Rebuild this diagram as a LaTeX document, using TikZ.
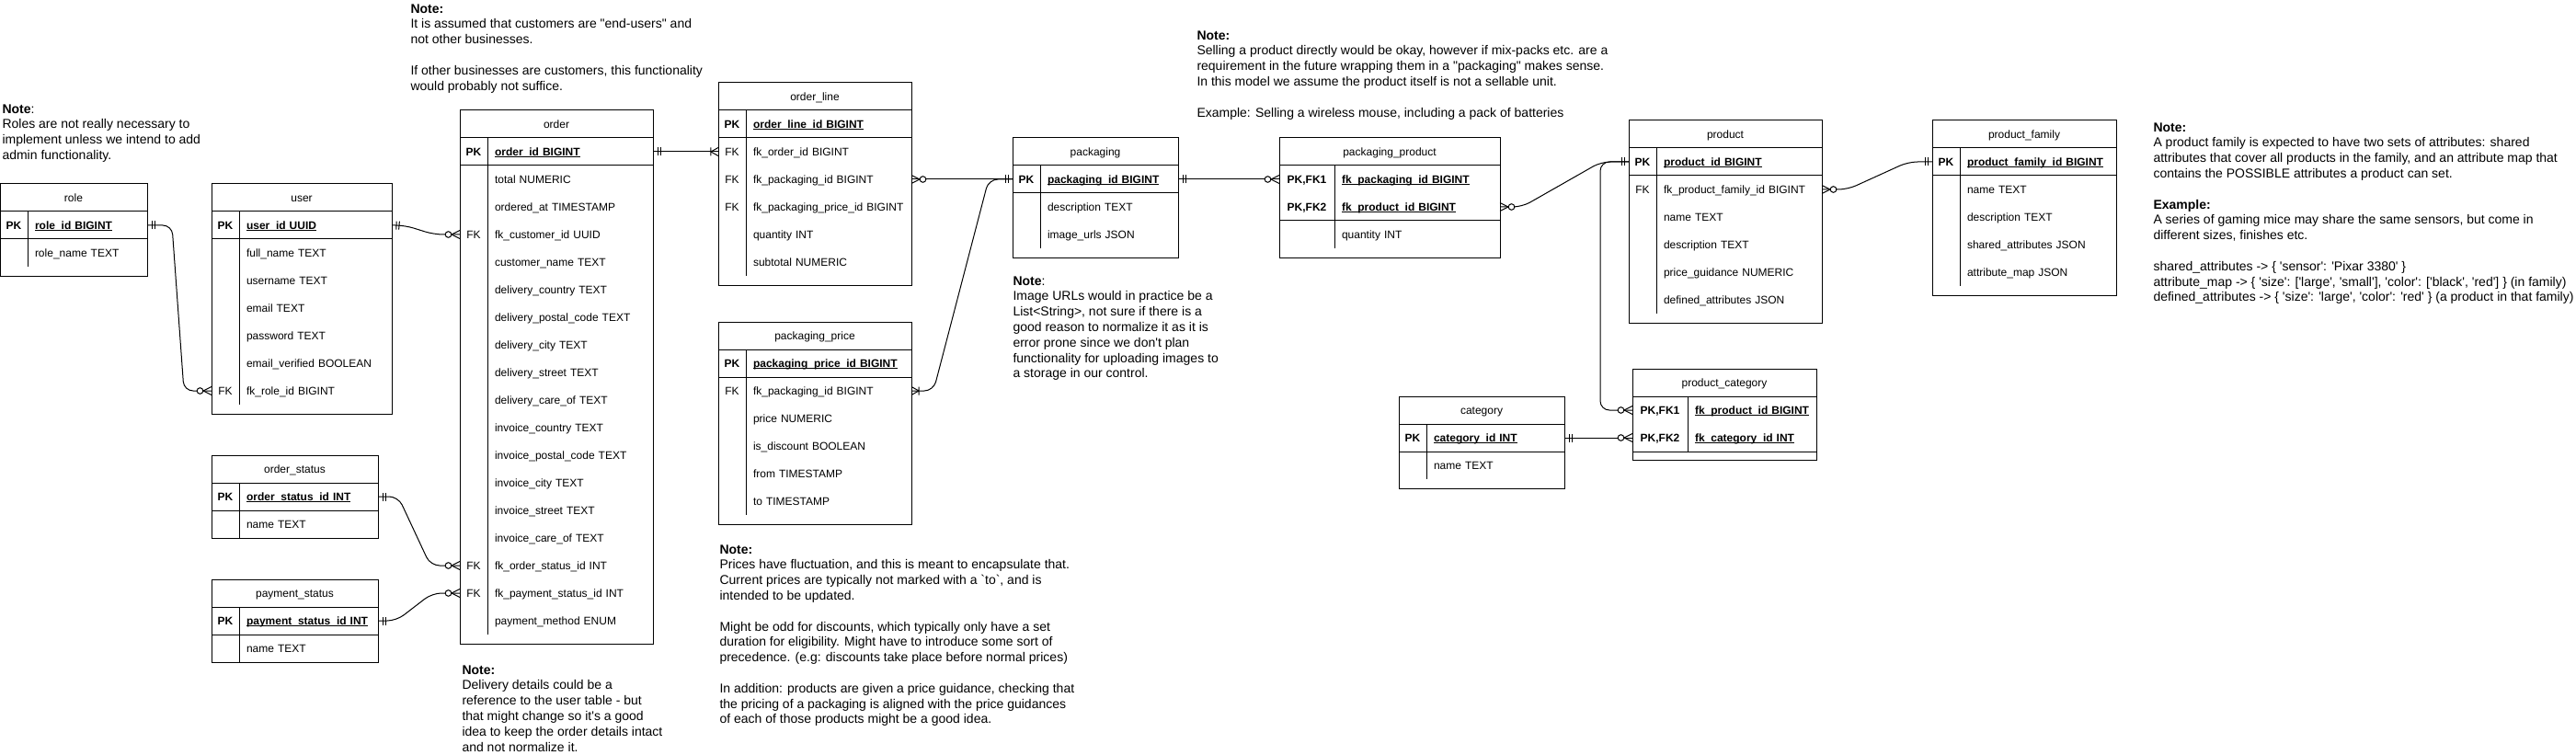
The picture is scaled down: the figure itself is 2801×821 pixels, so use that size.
\documentclass[tikz,border=0pt]{standalone}
\usepackage{fontspec}
\setmainfont{Liberation Sans}[Ligatures=TeXOff]
\usepackage{tikz}
\usetikzlibrary{positioning,decorations.markings}
\newcommand{\tablefont}{\fontsize{12}{14}\selectfont}
\newcommand{\notefont}{\fontsize{14}{16.8}\selectfont}
\newcommand{\PKey}[1]{\leavevmode\setbox0=\hbox{\textbf{#1}}\copy0\kern-\wd0\rule[-1.8pt]{\wd0}{0.8pt}}

\begin{document}
\begin{tikzpicture}[x=1pt,y=-1pt,line width=1pt,font=\tablefont,
  head/.style={minimum width=#1,minimum height=30pt,inner sep=0pt,outer sep=0pt,anchor=north west,text height=10pt,text depth=1.4pt},
  key/.style={minimum width=#1,minimum height=30pt,inner sep=0pt,outer sep=0pt,text height=10pt,text depth=1.4pt},
  field/.style={text width=#1,minimum height=30pt,inner xsep=8pt,inner ysep=0pt,outer sep=0pt,align=left,text height=10pt,text depth=1.4pt},
  one/.style={postaction={decorate,decoration={markings,
    mark=at position 5pt with {\draw (0pt,-4.5pt) -- (0pt,4.5pt);},
    mark=at position 8pt with {\draw (0pt,-4.5pt) -- (0pt,4.5pt);}}}},
  many/.style={postaction={decorate,decoration={markings,
    mark=at position -0.01pt with {\draw (-9pt,0pt) -- (0pt,4.5pt) (-9pt,0pt) -- (0pt,-4.5pt);
      \draw[fill=white] (-12.5pt,0pt) circle (3.3pt);}}}},
  onemany/.style={postaction={decorate,decoration={markings,
    mark=at position -0.01pt with {\draw (-8pt,0pt) -- (0pt,4.5pt) (-8pt,0pt) -- (0pt,-4.5pt) (-8pt,-4.5pt) -- (-8pt,4.5pt);}}}}]
\tikzstyle{note}=[anchor=north west,align=left,inner sep=0pt,font=\notefont]
\tikzstyle{rel}=[draw,rounded corners=10pt]
\useasboundingbox (0,0) rectangle (2801,821);

% role
\node[head=160pt] (Role) at (0,200) {role};
\node[key=30pt,below right=0pt of Role.south west] (RolePK) {\textbf{PK}};
\node[field=114pt,right=0pt of RolePK] (RoleId) {\PKey{role\_id BIGINT}};
\node[field=114pt,below=0pt of RoleId] (RoleName) {role\_name TEXT};
\draw (Role.north west) rectangle ([yshift=-10pt]RoleName.south east);
\draw (Role.south west) -- (Role.south east);
\draw (RolePK.south west) -- (RoleId.south east);
\draw (RoleId.north west) -- (RoleName.south west);

% user
\node[head=196pt] (User) at (230,200) {user};
\node[key=30pt,below right=0pt of User.south west] (UserPK) {\textbf{PK}};
\node[field=150pt,right=0pt of UserPK] (UserId) {\PKey{user\_id UUID}};
\node[field=150pt,below=0pt of UserId] (UserFullName) {full\_name TEXT};
\node[field=150pt,below=0pt of UserFullName] (UserName) {username TEXT};
\node[field=150pt,below=0pt of UserName] (UserEmail) {email TEXT};
\node[field=150pt,below=0pt of UserEmail] (UserPassword) {password TEXT};
\node[field=150pt,below=0pt of UserPassword] (UserVerified) {email\_verified BOOLEAN};
\node[field=150pt,below=0pt of UserVerified] (UserFkRole) {fk\_role\_id BIGINT};
\node[key=30pt,left=0pt of UserFkRole] (UserFK) {FK};
\draw (User.north west) rectangle ([yshift=-10pt]UserFkRole.south east);
\draw (User.south west) -- (User.south east);
\draw (UserPK.south west) -- (UserId.south east);
\draw (UserId.north west) -- (UserFkRole.south west);

% order
\node[head=210pt] (Order) at (500,120) {order};
\node[key=30pt,below right=0pt of Order.south west] (OrderPK) {\textbf{PK}};
\node[field=164pt,right=0pt of OrderPK] (OrderId) {\PKey{order\_id BIGINT}};
\node[field=164pt,below=0pt of OrderId] (OrderTotal) {total NUMERIC};
\node[field=164pt,below=0pt of OrderTotal] (OrderedAt) {ordered\_at TIMESTAMP};
\node[field=164pt,below=0pt of OrderedAt] (OrderFkCustomer) {fk\_customer\_id UUID};
\node[key=30pt,left=0pt of OrderFkCustomer] (OrderFK1) {FK};
\node[field=164pt,below=0pt of OrderFkCustomer] (CustomerName) {customer\_name TEXT};
\node[field=164pt,below=0pt of CustomerName] (DeliveryCountry) {delivery\_country TEXT};
\node[field=164pt,below=0pt of DeliveryCountry] (DeliveryPostal) {delivery\_postal\_code TEXT};
\node[field=164pt,below=0pt of DeliveryPostal] (DeliveryCity) {delivery\_city TEXT};
\node[field=164pt,below=0pt of DeliveryCity] (DeliveryStreet) {delivery\_street TEXT};
\node[field=164pt,below=0pt of DeliveryStreet] (DeliveryCareOf) {delivery\_care\_of TEXT};
\node[field=164pt,below=0pt of DeliveryCareOf] (InvoiceCountry) {invoice\_country TEXT};
\node[field=164pt,below=0pt of InvoiceCountry] (InvoicePostal) {invoice\_postal\_code TEXT};
\node[field=164pt,below=0pt of InvoicePostal] (InvoiceCity) {invoice\_city TEXT};
\node[field=164pt,below=0pt of InvoiceCity] (InvoiceStreet) {invoice\_street TEXT};
\node[field=164pt,below=0pt of InvoiceStreet] (InvoiceCareOf) {invoice\_care\_of TEXT};
\node[field=164pt,below=0pt of InvoiceCareOf] (OrderFkStatus) {fk\_order\_status\_id INT};
\node[key=30pt,left=0pt of OrderFkStatus] (OrderFK2) {FK};
\node[field=164pt,below=0pt of OrderFkStatus] (OrderFkPayment) {fk\_payment\_status\_id INT};
\node[key=30pt,left=0pt of OrderFkPayment] (OrderFK3) {FK};
\node[field=164pt,below=0pt of OrderFkPayment] (PaymentMethod) {payment\_method ENUM};
\draw (Order.north west) rectangle ([yshift=-10pt]PaymentMethod.south east);
\draw (Order.south west) -- (Order.south east);
\draw (OrderPK.south west) -- (OrderId.south east);
\draw (OrderId.north west) -- (PaymentMethod.south west);

% order_status
\node[head=181pt] (OrderStatus) at (230,495) {order\_status};
\node[key=30pt,below right=0pt of OrderStatus.south west] (OsPK) {\textbf{PK}};
\node[field=135pt,right=0pt of OsPK] (OsId) {\PKey{order\_status\_id~INT}};
\node[field=135pt,below=0pt of OsId] (OsName) {name TEXT};
\draw (OrderStatus.north west) rectangle (OsName.south east);
\draw (OrderStatus.south west) -- (OrderStatus.south east);
\draw (OsPK.south west) -- (OsId.south east);
\draw (OsId.north west) -- (OsName.south west);

% payment_status
\node[head=181pt] (PaymentStatus) at (230,630) {payment\_status};
\node[key=30pt,below right=0pt of PaymentStatus.south west] (PsPK) {\textbf{PK}};
\node[field=135pt,right=0pt of PsPK] (PsId) {\PKey{payment\_status\_id~INT}};
\node[field=135pt,below=0pt of PsId] (PsName) {name TEXT};
\draw (PaymentStatus.north west) rectangle (PsName.south east);
\draw (PaymentStatus.south west) -- (PaymentStatus.south east);
\draw (PsPK.south west) -- (PsId.south east);
\draw (PsId.north west) -- (PsName.south west);

% order_line
\node[head=210pt] (OrderLine) at (781,90) {order\_line};
\node[key=30pt,below right=0pt of OrderLine.south west] (OlPK) {\textbf{PK}};
\node[field=164pt,right=0pt of OlPK] (OlId) {\PKey{order\_line\_id BIGINT}};
\node[field=164pt,below=0pt of OlId] (OlFkOrder) {fk\_order\_id BIGINT};
\node[key=30pt,left=0pt of OlFkOrder] (OlFK1) {FK};
\node[field=164pt,below=0pt of OlFkOrder] (OlFkPack) {fk\_packaging\_id BIGINT};
\node[key=30pt,left=0pt of OlFkPack] (OlFK2) {FK};
\node[field=164pt,below=0pt of OlFkPack] (OlFkPrice) {fk\_packaging\_price\_id~BIGINT};
\node[key=30pt,left=0pt of OlFkPrice] (OlFK3) {FK};
\node[field=164pt,below=0pt of OlFkPrice] (OlQty) {quantity INT};
\node[field=164pt,below=0pt of OlQty] (OlSubtotal) {subtotal NUMERIC};
\draw (OrderLine.north west) rectangle ([yshift=-10pt]OlSubtotal.south east);
\draw (OrderLine.south west) -- (OrderLine.south east);
\draw (OlPK.south west) -- (OlId.south east);
\draw (OlId.north west) -- (OlSubtotal.south west);

% packaging_price
\node[head=210pt] (PackPrice) at (781,350) {packaging\_price};
\node[key=30pt,below right=0pt of PackPrice.south west] (PpPK) {\textbf{PK}};
\node[field=164pt,right=0pt of PpPK] (PpId) {\PKey{packaging\_price\_id~BIGINT}};
\node[field=164pt,below=0pt of PpId] (PpFkPack) {fk\_packaging\_id BIGINT};
\node[key=30pt,left=0pt of PpFkPack] (PpFK) {FK};
\node[field=164pt,below=0pt of PpFkPack] (PpPrice) {price NUMERIC};
\node[field=164pt,below=0pt of PpPrice] (PpDiscount) {is\_discount BOOLEAN};
\node[field=164pt,below=0pt of PpDiscount] (PpFrom) {from TIMESTAMP};
\node[field=164pt,below=0pt of PpFrom] (PpTo) {to TIMESTAMP};
\draw (PackPrice.north west) rectangle ([yshift=-10pt]PpTo.south east);
\draw (PackPrice.south west) -- (PackPrice.south east);
\draw (PpPK.south west) -- (PpId.south east);
\draw (PpId.north west) -- (PpTo.south west);

% packaging
\node[head=180pt] (Packaging) at (1101,150) {packaging};
\node[key=30pt,below right=0pt of Packaging.south west] (PackPK) {\textbf{PK}};
\node[field=134pt,right=0pt of PackPK] (PackId) {\PKey{packaging\_id BIGINT}};
\node[field=134pt,below=0pt of PackId] (PackDesc) {description TEXT};
\node[field=134pt,below=0pt of PackDesc] (PackImages) {image\_urls JSON};
\draw (Packaging.north west) rectangle ([yshift=-10pt]PackImages.south east);
\draw (Packaging.south west) -- (Packaging.south east);
\draw (PackPK.south west) -- (PackId.south east);
\draw (PackId.north west) -- (PackImages.south west);

% packaging_product
\node[head=240pt] (PackProd) at (1391,150) {packaging\_product};
\node[key=60pt,below right=0pt of PackProd.south west] (PprPK1) {\textbf{PK,FK1}};
\node[field=164pt,right=0pt of PprPK1] (PprFkPack) {\PKey{fk\_packaging\_id BIGINT}};
\node[key=60pt,below=0pt of PprPK1] (PprPK2) {\textbf{PK,FK2}};
\node[field=164pt,right=0pt of PprPK2] (PprFkProd) {\PKey{fk\_product\_id BIGINT}};
\node[field=164pt,below=0pt of PprFkProd] (PprQty) {quantity INT};
\draw (PackProd.north west) rectangle ([yshift=-10pt]PprQty.south east);
\draw (PackProd.south west) -- (PackProd.south east);
\draw (PprPK2.south west) -- (PprFkProd.south east);
\draw (PprFkPack.north west) -- (PprQty.south west);

% product
\node[head=210pt] (Product) at (1771,131) {product};
\node[key=30pt,below right=0pt of Product.south west] (ProdPK) {\textbf{PK}};
\node[field=164pt,right=0pt of ProdPK] (ProdId) {\PKey{product\_id BIGINT}};
\node[field=164pt,below=0pt of ProdId] (ProdFkFam) {fk\_product\_family\_id BIGINT};
\node[key=30pt,left=0pt of ProdFkFam] (ProdFK) {FK};
\node[field=164pt,below=0pt of ProdFkFam] (ProdName) {name TEXT};
\node[field=164pt,below=0pt of ProdName] (ProdDesc) {description TEXT};
\node[field=164pt,below=0pt of ProdDesc] (ProdGuide) {price\_guidance NUMERIC};
\node[field=164pt,below=0pt of ProdGuide] (ProdAttr) {defined\_attributes JSON};
\draw (Product.north west) rectangle ([yshift=-10pt]ProdAttr.south east);
\draw (Product.south west) -- (Product.south east);
\draw (ProdPK.south west) -- (ProdId.south east);
\draw (ProdId.north west) -- (ProdAttr.south west);

% product_family
\node[head=200pt] (Family) at (2101,131) {product\_family};
\node[key=30pt,below right=0pt of Family.south west] (FamPK) {\textbf{PK}};
\node[field=154pt,right=0pt of FamPK] (FamId) {\PKey{product\_family\_id~BIGINT}};
\node[field=154pt,below=0pt of FamId] (FamName) {name TEXT};
\node[field=154pt,below=0pt of FamName] (FamDesc) {description TEXT};
\node[field=154pt,below=0pt of FamDesc] (FamShared) {shared\_attributes JSON};
\node[field=154pt,below=0pt of FamShared] (FamMap) {attribute\_map JSON};
\draw (Family.north west) rectangle ([yshift=-10pt]FamMap.south east);
\draw (Family.south west) -- (Family.south east);
\draw (FamPK.south west) -- (FamId.south east);
\draw (FamId.north west) -- (FamMap.south west);

% product_category
\node[head=200pt] (ProdCat) at (1775,401) {product\_category};
\node[key=60pt,below right=0pt of ProdCat.south west] (PcPK1) {\textbf{PK,FK1}};
\node[field=124pt,right=0pt of PcPK1] (PcFkProd) {\PKey{fk\_product\_id~BIGINT}};
\node[key=60pt,below=0pt of PcPK1] (PcPK2) {\textbf{PK,FK2}};
\node[field=124pt,right=0pt of PcPK2] (PcFkCat) {\PKey{fk\_category\_id~INT}};
\draw (ProdCat.north west) rectangle ([yshift=-9pt]PcFkCat.south east);
\draw (ProdCat.south west) -- (ProdCat.south east);
\draw (PcPK2.south west) -- (PcFkCat.south east);
\draw (PcFkProd.north west) -- (PcFkCat.south west);

% category
\node[head=180pt] (Category) at (1521,431) {category};
\node[key=30pt,below right=0pt of Category.south west] (CatPK) {\textbf{PK}};
\node[field=134pt,right=0pt of CatPK] (CatId) {\PKey{category\_id INT}};
\node[field=134pt,below=0pt of CatId] (CatName) {name TEXT};
\draw (Category.north west) rectangle ([yshift=-10pt]CatName.south east);
\draw (Category.south west) -- (Category.south east);
\draw (CatPK.south west) -- (CatId.south east);
\draw (CatId.north west) -- (CatName.south west);

% notes
\node[note] (RoleNote) at (2,113) {\textbf{Note}:\\Roles are not really necessary to\\implement unless we intend to add\\admin functionality.};
\node[note] (CustomerNote) at (446,4) {\textbf{Note:}\\It is assumed that customers are "end-users" and\\not other businesses.\\[16.8pt]If other businesses are customers, this functionality\\would probably not suffice.};
\node[note] (DeliveryNote) at (502,723) {\textbf{Note:}\\Delivery details could be a\\reference to the user table - but\\that might change so it's a good\\idea to keep the order details intact\\and not normalize it.};
\node[note] (PriceNote) at (782,592) {\textbf{Note:}\\Prices have fluctuation, and this is meant to encapsulate that.\\Current prices are typically not marked with a `to`, and is\\intended to be updated.\\[16.8pt]Might be odd for discounts, which typically only have a set\\duration for eligibility. Might have to introduce some sort of\\precedence. (e.g: discounts take place before normal prices)\\[16.8pt]In addition: products are given a price guidance, checking that\\the pricing of a packaging is aligned with the price guidances\\of each of those products might be a good idea.};
\node[note] (ImageNote) at (1101,300) {\textbf{Note}:\\Image URLs would in practice be a\\List<String>, not sure if there is a\\good reason to normalize it as it is\\error prone since we don't plan\\functionality for uploading images to\\a storage in our control.};
\node[note] (PackagingNote) at (1301,33) {\textbf{Note:}\\Selling a product directly would be okay, however if mix-packs etc. are a\\requirement in the future wrapping them in a "packaging" makes sense.\\In this model we assume the product itself is not a sellable unit.\\[16.8pt]Example: Selling a wireless mouse, including a pack of batteries};
\node[note] (FamilyNote) at (2341,133) {\textbf{Note:}\\A product family is expected to have two sets of attributes: shared\\attributes that cover all products in the family, and an attribute map that\\contains the POSSIBLE attributes a product can set.\\[16.8pt]\textbf{Example:}\\A series of gaming mice may share the same sensors, but come in\\different sizes, finishes etc.\\[16.8pt]shared\_attributes -> \{ 'sensor': 'Pixar 3380' \}\\attribute\_map -> \{ 'size': ['large', 'small'], 'color': ['black', 'red'] \} (in family)\\defined\_attributes -> \{ 'size': 'large', 'color': 'red' \} (a product in that family)};

% relations
\draw[rel,one,many] (RoleId.east) -- ++(27,0) -- ([xshift=-30pt]UserFK.west) -- (UserFK.west);
\draw[rel,one,many] (UserId.east) -- ++(14,0) -- ([xshift=-28pt]OrderFK1.west) -- (OrderFK1.west);
\draw[rel,one,onemany] (OrderId.east) -- (OlFK1.west);
\draw[rel,one,many] (OsId.east) -- ++(22,0) -- ([xshift=-32pt]OrderFK2.west) -- (OrderFK2.west);
\draw[rel,one,many] (PsId.east) -- ++(20,0) -- ([xshift=-30pt]OrderFK3.west) -- (OrderFK3.west);
\draw[rel,one,many] (PackPK.west) -- (OlFkPack.east);
\draw[rel,one,onemany] (PackPK.west) -- ++(-26,0) -- ([xshift=24pt]PpFkPack.east) -- (PpFkPack.east);
\draw[rel,one,many] (PackId.east) -- (PprPK1.west);
\draw[rel,one,many] (ProdPK.west) -- ++(-30,0) -- ([xshift=24pt]PprFkProd.east) -- (PprFkProd.east);
\draw[rel,one,many] (ProdPK.west) -- ++(-31,0) |- (PcPK1.west);
\draw[rel,one,many] (CatId.east) -- (PcPK2.west);
\draw[rel,one,many] (FamPK.west) -- ++(-26,0) -- ([xshift=28pt]ProdFkFam.east) -- (ProdFkFam.east);
\end{tikzpicture}
\end{document}
